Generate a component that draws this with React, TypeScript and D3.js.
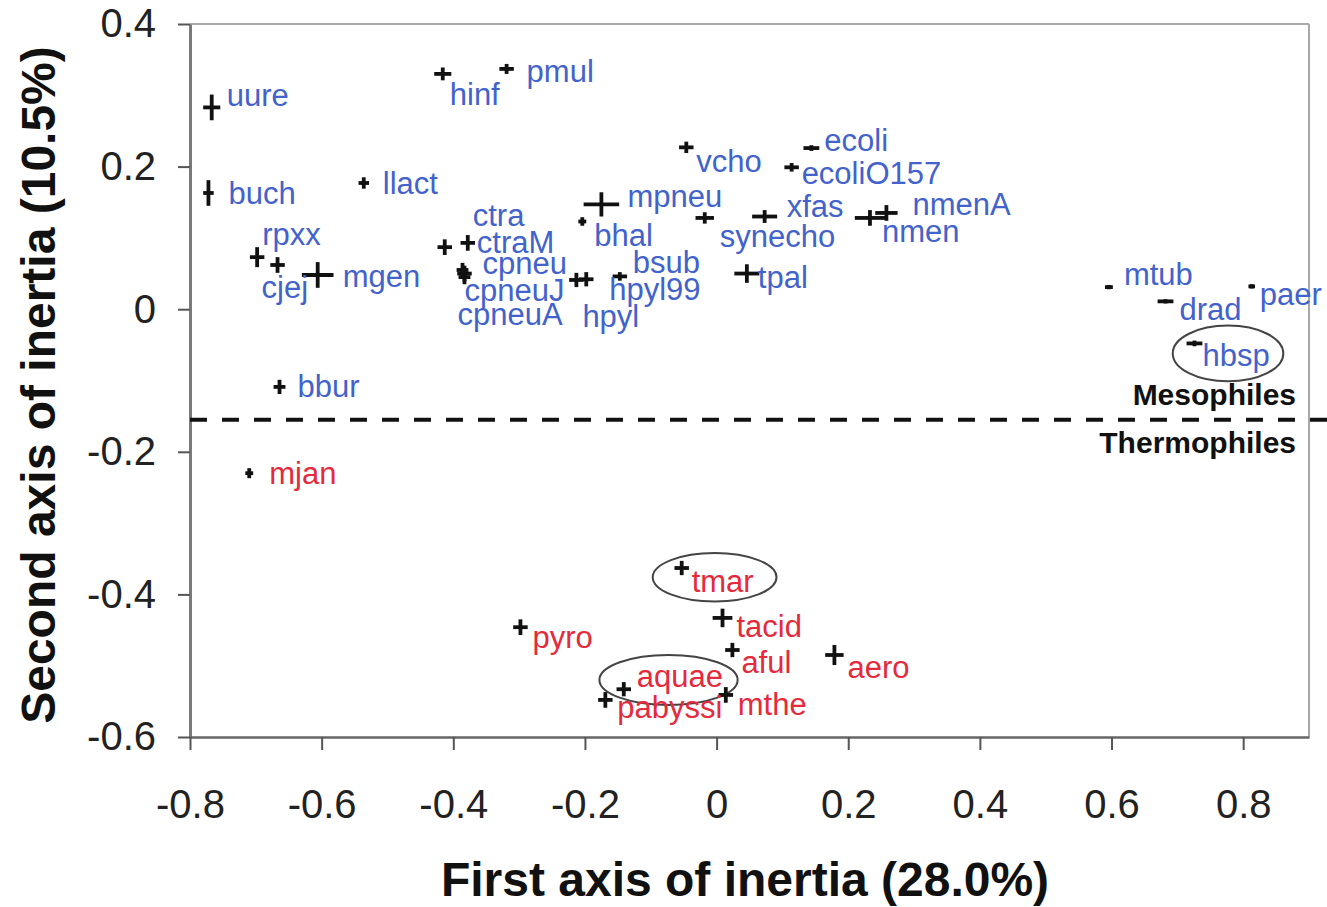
import React, { useEffect, useRef } from "react";
import * as d3 from "d3";

// Genome coordinates on the first two axes of inertia
const genomes = [
  "uure", "buch", "rpxx", "cjej", "mgen", "llact", "hinf", "pmul", "vcho", "ecoli",
  "ecoliO157", "mpneu", "bhal", "synecho", "xfas", "nmen", "nmenA", "ctra", "ctraM", "cpneu",
  "cpneuJ", "cpneuA", "bsub", "hpyl99", "hpyl", "tpal", "mtub", "drad", "paer", "hbsp",
  "bbur", "mjan", "tmar", "tacid", "pyro", "aful", "aero", "aquae", "pabyssi", "mthe",
];
const axis1 = [
  -0.767, -0.772, -0.698, -0.667, -0.606, -0.536, -0.416, -0.319, -0.046, 0.144,
  0.114, -0.175, -0.204, -0.018, 0.073, 0.233, 0.258, -0.413, -0.378, -0.383,
  -0.383, -0.386, -0.147, -0.198, -0.213, 0.046, 0.596, 0.682, 0.813, 0.726,
  -0.664, -0.71, -0.053, 0.009, -0.298, 0.024, 0.179, -0.141, -0.169, 0.014,
];
const axis2 = [
  0.283, 0.163, 0.073, 0.062, 0.048, 0.177, 0.33, 0.337, 0.227, 0.226,
  0.199, 0.147, 0.123, 0.128, 0.13, 0.128, 0.135, 0.087, 0.093, 0.05,
  0.045, 0.055, 0.046, 0.042, 0.041, 0.05, 0.031, 0.011, 0.032, -0.048,
  -0.109, -0.23, -0.363, -0.433, -0.446, -0.478, -0.485, -0.533, -0.548, -0.541,
];
// Dispersion of each genome along both axes (cross arm lengths)
const spread1 = [
  0.013, 0.008, 0.011, 0.011, 0.024, 0.008, 0.013, 0.011, 0.011, 0.012,
  0.011, 0.027, 0.006, 0.014, 0.019, 0.023, 0.017, 0.011, 0.011, 0.011,
  0.009, 0.009, 0.011, 0.011, 0.011, 0.019, 0.006, 0.012, 0.005, 0.012,
  0.009, 0.006, 0.011, 0.015, 0.011, 0.011, 0.014, 0.011, 0.011, 0.011,
];
const spread2 = [
  0.018, 0.018, 0.014, 0.011, 0.018, 0.008, 0.009, 0.007, 0.008, 0.004,
  0.006, 0.017, 0.006, 0.008, 0.009, 0.011, 0.011, 0.011, 0.011, 0.011,
  0.01, 0.01, 0.006, 0.01, 0.01, 0.013, 0.003, 0.003, 0.003, 0.004,
  0.01, 0.007, 0.01, 0.013, 0.011, 0.01, 0.014, 0.01, 0.011, 0.011,
];
const thermophiles = ["mjan", "tmar", "tacid", "pyro", "aful", "aero", "aquae", "pabyssi", "mthe"];

// Highlighted genomes: centre, radii (data units)
const highlightNames = ["hbsp", "tmar", "aquae"];
const highlightCx = [0.777, -0.003, -0.073];
const highlightCy = [-0.062, -0.376, -0.52];
const highlightRx = [0.084, 0.094, 0.105];
const highlightRy = [0.039, 0.034, 0.035];

const xTicks = [-0.8, -0.6, -0.4, -0.2, 0, 0.2, 0.4, 0.6, 0.8];
const yTicks = [-0.6, -0.4, -0.2, 0, 0.2, 0.4];
const separation = -0.155;

// Label placement relative to each marker: [dx, dy(baseline)] in pixels
const labelOffset: Record<string, [number, number]> = {
  uure: [15, -1], buch: [20, 11], rpxx: [5, -12], cjej: [-16, 33], mgen: [25, 12],
  llact: [19, 11], hinf: [7, 31], pmul: [20, 13], vcho: [10, 25], ecoli: [13, 3],
  ecoliO157: [10, 17], mpneu: [26, 3], bhal: [12, 24], synecho: [15, 29], xfas: [22, 0],
  nmen: [12, 24], nmenA: [26, 2], ctra: [28, -21], ctraM: [9, 10], cpneu: [18, 0],
  cpneuJ: [0, 24], cpneuA: [-5, 55], bsub: [13, -3], hpyl99: [23, 21], hpyl: [6, 47],
  tpal: [11, 14], mtub: [15, -2], drad: [14, 19], paer: [8, 19], hbsp: [8, 23],
  bbur: [18, 10], mjan: [20, 11], tmar: [10, 24], tacid: [14, 19], pyro: [12, 21],
  aful: [9, 23], aero: [13, 23], aquae: [13, -2], pabyssi: [12, 18], mthe: [12, 20],
};

const FONT = "'Liberation Sans', Arial, Helvetica, sans-serif";
const BLUE = "#4262cc";
const RED = "#e42a3c";

export default function App() {
  const ref = useRef<SVGSVGElement>(null);

  useEffect(() => {
    const svg = d3.select(ref.current);
    svg.selectAll("*").remove();

    const x = d3.scaleLinear().domain([-0.8, 0.9]).range([190, 1309]);
    const y = d3.scaleLinear().domain([-0.6, 0.4]).range([737, 24]);
    const fmt = (d: d3.NumberValue) => String(+d);

    // frame: light top and right edges
    svg.append("line").attr("x1", x(-0.8)).attr("x2", x(0.9)).attr("y1", y(0.4)).attr("y2", y(0.4))
      .attr("stroke", "#a8a8a8").attr("stroke-width", 2);
    svg.append("line").attr("x1", x(0.9)).attr("x2", x(0.9)).attr("y1", y(0.4)).attr("y2", y(-0.6))
      .attr("stroke", "#a8a8a8").attr("stroke-width", 2);

    // left axis
    const gy = svg.append("g").attr("transform", `translate(${x(-0.8)},0)`)
      .call(d3.axisLeft(y).tickValues(yTicks).tickSize(12).tickSizeOuter(0).tickFormat(fmt).tickPadding(22));
    gy.select(".domain").attr("stroke", "#7a7a7a").attr("stroke-width", 3);
    gy.selectAll(".tick line").attr("stroke", "#555").attr("stroke-width", 2);
    gy.selectAll(".tick text").attr("font-family", FONT).attr("font-size", 40).attr("fill", "#222");

    // bottom axis
    const gx = svg.append("g").attr("transform", `translate(0,${y(-0.6)})`)
      .call(d3.axisBottom(x).tickValues(xTicks).tickSize(13).tickSizeOuter(0).tickFormat(fmt).tickPadding(40));
    gx.select(".domain").attr("stroke", "#666").attr("stroke-width", 2.5);
    gx.selectAll(".tick line").attr("stroke", "#555").attr("stroke-width", 2);
    gx.selectAll(".tick text").attr("font-family", FONT).attr("font-size", 40).attr("fill", "#222");

    // axis titles
    svg.append("text").attr("x", 745).attr("y", 896).attr("text-anchor", "middle")
      .attr("font-family", FONT).attr("font-weight", "bold").attr("font-size", 48).attr("fill", "#111")
      .text("First axis of inertia (28.0%)");
    svg.append("text").attr("transform", "translate(55,385) rotate(-90)").attr("text-anchor", "middle")
      .attr("font-family", FONT).attr("font-weight", "bold").attr("font-size", 48).attr("fill", "#111")
      .text("Second axis of inertia (10.5%)");

    // mesophile / thermophile separation
    svg.append("line").attr("x1", x(-0.8)).attr("x2", 1327).attr("y1", y(separation)).attr("y2", y(separation))
      .attr("stroke", "#111").attr("stroke-width", 4).attr("stroke-dasharray", "17 15");
    svg.append("text").attr("x", 1296).attr("y", 405).attr("text-anchor", "end")
      .attr("font-family", FONT).attr("font-weight", "bold").attr("font-size", 30).attr("fill", "#111").text("Mesophiles");
    svg.append("text").attr("x", 1296).attr("y", 453).attr("text-anchor", "end")
      .attr("font-family", FONT).attr("font-weight", "bold").attr("font-size", 30).attr("fill", "#111").text("Thermophiles");

    const data = genomes.map((name, i) => ({
      name, x: axis1[i], y: axis2[i], sx: spread1[i], sy: spread2[i],
      thermo: thermophiles.includes(name),
    }));

    // highlight ellipses
    svg.append("g").selectAll("ellipse").data(highlightNames).join("ellipse")
      .attr("cx", (_, i) => x(highlightCx[i])).attr("cy", (_, i) => y(highlightCy[i]))
      .attr("rx", (_, i) => x(highlightRx[i]) - x(0)).attr("ry", (_, i) => y(0) - y(highlightRy[i]))
      .attr("fill", "none").attr("stroke", "#444").attr("stroke-width", 2);

    // crosses
    const marks = svg.append("g").attr("stroke", "#111").attr("stroke-width", 3.8);
    marks.selectAll("line.h").data(data).join("line").attr("class", "h")
      .attr("x1", (d) => x(d.x - d.sx)).attr("x2", (d) => x(d.x + d.sx))
      .attr("y1", (d) => y(d.y)).attr("y2", (d) => y(d.y));
    marks.selectAll("line.v").data(data).join("line").attr("class", "v")
      .attr("x1", (d) => x(d.x)).attr("x2", (d) => x(d.x))
      .attr("y1", (d) => y(d.y + d.sy)).attr("y2", (d) => y(d.y - d.sy));

    // genome labels
    svg.append("g").selectAll("text").data(data).join("text")
      .attr("x", (d) => x(d.x) + labelOffset[d.name][0])
      .attr("y", (d) => y(d.y) + labelOffset[d.name][1])
      .attr("font-family", FONT).attr("font-size", 31)
      .attr("fill", (d) => (d.thermo ? RED : BLUE))
      .text((d) => d.name);
  }, []);

  return (
    <svg ref={ref} width={1327} height={907}
      style={{ position: "absolute", left: 0, top: 0, background: "#fff", display: "block" }} />
  );
}
